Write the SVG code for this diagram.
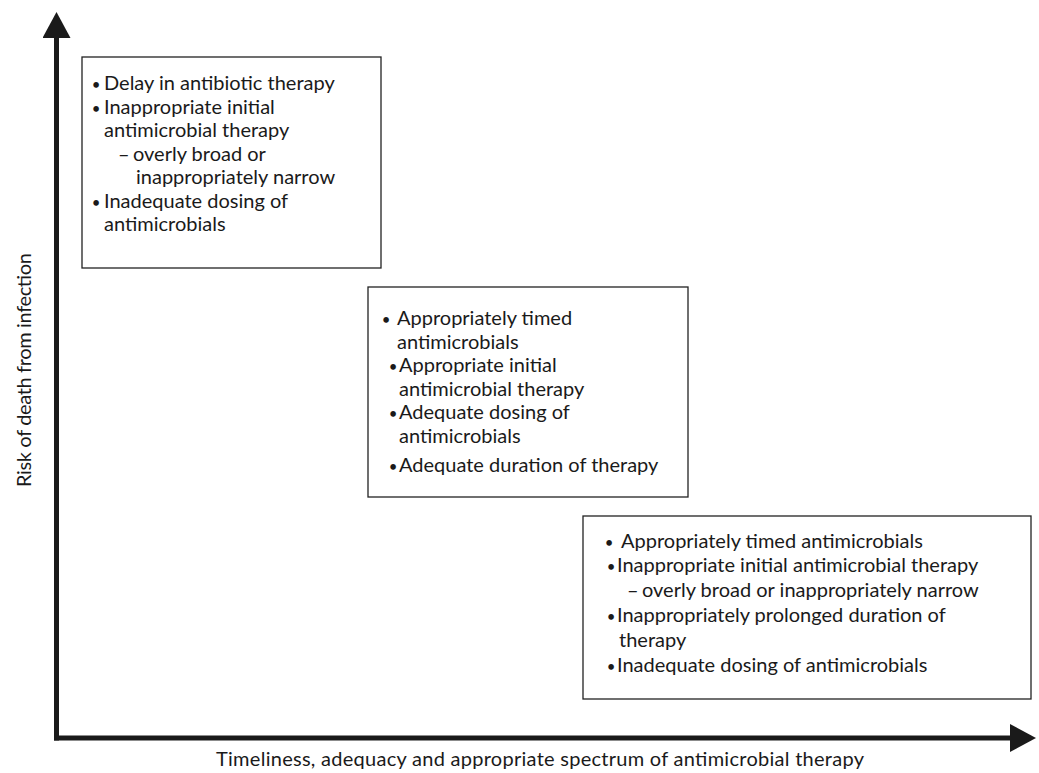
<svg xmlns="http://www.w3.org/2000/svg" width="1039" height="773" viewBox="0 0 1039 773">
<style>
.box{fill:#fff;stroke:#222;stroke-width:1.3}
.t{font-family:Lato,"Noto Sans","Liberation Sans",sans-serif;font-size:20px;fill:#1a1a1a}
.b{font-family:Lato,"Noto Sans","Liberation Sans",sans-serif;font-size:15px;fill:#1a1a1a;text-anchor:middle}
.lbl{font-family:Lato,"Noto Sans","Liberation Sans",sans-serif;font-size:20px;fill:#1a1a1a}
.ax{stroke:#1a1a1a;stroke-width:5;fill:none}
</style>
<defs>
<marker id="ah" markerWidth="28" markerHeight="28" refX="0" refY="14" orient="auto" markerUnits="userSpaceOnUse"><path d="M0,0 L26,14 L0,28 Z" fill="#1a1a1a"/></marker>
</defs>
<rect width="1039" height="773" fill="#fff"/>
<g id="axes">
<path class="ax" d="M56.5,740.5 L56.5,38" marker-end="url(#ah)"/>
<path class="ax" d="M54,738 L1010,738" marker-end="url(#ah)"/>
</g>
<g id="ylabel"><text class="lbl" transform="translate(31,370) rotate(-90)" text-anchor="middle" font-size="18" textLength="234" lengthAdjust="spacing">Risk of death from infection</text></g>
<g id="xlabel"><text class="lbl" x="540" y="766" text-anchor="middle" textLength="648" lengthAdjust="spacing">Timeliness, adequacy and appropriate spectrum of antimicrobial therapy</text></g>
<g id="box1">
<rect class="box" x="82" y="57" width="299" height="211"/>
<text class="b" x="96" y="90">•</text>
<text class="b" x="96" y="113.5">•</text>
<text class="b" x="96" y="207.5">•</text>
<text class="t"><tspan x="104" y="90">Delay in antibiotic therapy</tspan><tspan x="104" y="113.5">Inappropriate initial</tspan><tspan x="104" y="137">antimicrobial therapy</tspan><tspan x="118" y="160.5">–</tspan><tspan x="133" y="160.5">overly broad or</tspan><tspan x="136" y="184">inappropriately narrow</tspan><tspan x="104" y="207.5">Inadequate dosing of</tspan><tspan x="104" y="231">antimicrobials</tspan></text>
</g>
<g id="box2">
<rect class="box" x="368" y="287" width="320" height="210"/>
<text class="b" x="386" y="325">•</text>
<text class="b" x="393" y="372">•</text>
<text class="b" x="393" y="419">•</text>
<text class="b" x="393" y="472">•</text>
<text class="t"><tspan x="397" y="325">Appropriately timed</tspan><tspan x="397" y="349">antimicrobials</tspan><tspan x="399" y="372">Appropriate initial</tspan><tspan x="399" y="396">antimicrobial therapy</tspan><tspan x="399" y="419">Adequate dosing of</tspan><tspan x="399" y="443">antimicrobials</tspan><tspan x="399" y="472">Adequate duration of therapy</tspan></text>
</g>
<g id="box3">
<rect class="box" x="583" y="516" width="448" height="183"/>
<text class="b" x="609" y="548">•</text>
<text class="b" x="611" y="572">•</text>
<text class="b" x="611" y="622">•</text>
<text class="b" x="611" y="672">•</text>
<text class="t"><tspan x="621" y="548">Appropriately timed antimicrobials</tspan><tspan x="617" y="572">Inappropriate initial antimicrobial therapy</tspan><tspan x="627" y="597">–</tspan><tspan x="642" y="597">overly broad or inappropriately narrow</tspan><tspan x="617" y="622">Inappropriately prolonged duration of</tspan><tspan x="619" y="647">therapy</tspan><tspan x="617" y="672">Inadequate dosing of antimicrobials</tspan></text>
</g>
</svg>
